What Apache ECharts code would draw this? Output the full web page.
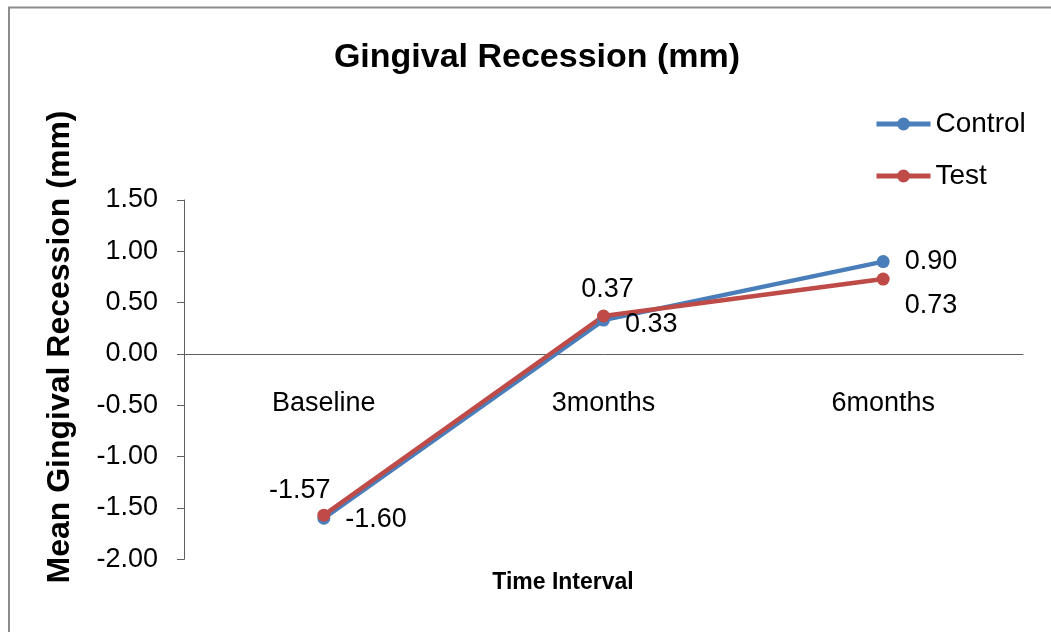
<!DOCTYPE html>
<html>
<head>
<meta charset="utf-8">
<script src="https://cdn.jsdelivr.net/npm/echarts@6/dist/echarts.min.js"></script>
<style>
html,body{margin:0;padding:0;background:#fff;}
#chart{width:1051px;height:632px;}
</style>
</head>
<body>
<div id="chart"></div>
<script>
const categories = ['Baseline', '3months', '6months'];
const controlValues = [-1.60, 0.33, 0.90];
const testValues = [-1.57, 0.37, 0.73];
const yTicks = { min: -2, max: 1.5, interval: 0.5 };

const FONT = 'Liberation Sans, Arial, sans-serif';

// label placement per point: base position + pixel shift
const controlLabelPos = [
  { position: 'right', d: [10, 1] },
  { position: 'right', d: [10, 4] },
  { position: 'right', d: [10, 0] }
];
const testLabelPos = [
  { position: 'top', d: [-24, 0] },
  { position: 'top', d: [4, -1] },
  { position: 'right', d: [10, 27] }
];

function mkData(vals, pos) {
  return vals.map((v, i) => ({
    value: v,
    label: { show: true, position: pos[i].position }
  }));
}
function mkLayout(pos) {
  return function (params) {
    const p = pos[params.dataIndex];
    return { dx: p.d[0], dy: p.d[1], hideOverlap: false };
  };
}

const gridTop = 200, gridBottomPx = 559.3;
const zeroShift = -(gridBottomPx - gridTop) * (0 - yTicks.min) / (yTicks.max - yTicks.min);

const chart = echarts.init(document.getElementById('chart'), null, { renderer: 'canvas' });
chart.setOption({
  animation: false,
  backgroundColor: '#fff',
  title: {
    text: 'Gingival Recession (mm)',
    left: 532, top: 36, textAlign: 'center',
    textStyle: { fontFamily: FONT, fontSize: 34, fontWeight: 'bold', color: '#000' }
  },
  legend: {
    orient: 'vertical',
    left: 869, top: 105,
    itemWidth: 54, itemHeight: 16, itemGap: 24,
    lineStyle: { width: 5 },
    textStyle: { fontFamily: FONT, fontSize: 28, color: '#000', lineHeight: 28 },
    data: ['Control', 'Test']
  },
  grid: { left: 184, right: 28, top: gridTop, bottom: 632 - gridBottomPx, containLabel: false },
  xAxis: {
    type: 'category',
    data: categories,
    boundaryGap: true,
    position: 'bottom',
    offset: zeroShift,
    axisLine: { show: true, onZero: false, lineStyle: { color: '#5f5f5f', width: 1 } },
    axisTick: { show: false },
    axisLabel: { fontFamily: FONT, fontSize: 27, color: '#000', margin: 36 },
    splitLine: { show: false }
  },
  yAxis: {
    type: 'value',
    min: yTicks.min, max: yTicks.max, interval: yTicks.interval,
    axisLine: { show: true, lineStyle: { color: '#5f5f5f', width: 1 } },
    axisTick: { show: true, length: 7, lineStyle: { color: '#5f5f5f' } },
    axisLabel: { fontFamily: FONT, fontSize: 27, color: '#000', margin: 26,
      formatter: v => v.toFixed(2) },
    splitLine: { show: false }
  },
  graphic: [
    { type: 'rect', shape: { x: 9, y: 7.5, width: 1200, height: 800 }, style: { fill: 'none', stroke: '#8c8c8c', lineWidth: 2 }, silent: true, z: -10 },
    { type: 'text', x: 563, y: 583, style: { text: 'Time Interval', fontFamily: FONT, fontSize: 23, fontWeight: 'bold', fill: '#000', align: 'center', verticalAlign: 'middle' } },
    { type: 'text', x: 60, y: 347, rotation: Math.PI / 2, style: { text: 'Mean Gingival Recession (mm)', fontFamily: FONT, fontSize: 32, fontWeight: 'bold', fill: '#000', align: 'center', verticalAlign: 'middle' } }
  ],
  series: [
    {
      name: 'Control', type: 'line', data: mkData(controlValues, controlLabelPos),
      symbol: 'circle', symbolSize: 13,
      lineStyle: { color: '#4A7EBB', width: 4.5 },
      itemStyle: { color: '#4A7EBB' },
      label: { fontFamily: FONT, fontSize: 27, color: '#000', formatter: p => p.value.toFixed(2) },
      labelLayout: mkLayout(controlLabelPos)
    },
    {
      name: 'Test', type: 'line', data: mkData(testValues, testLabelPos),
      symbol: 'circle', symbolSize: 13,
      lineStyle: { color: '#BE4B48', width: 4.5 },
      itemStyle: { color: '#BE4B48' },
      label: { fontFamily: FONT, fontSize: 27, color: '#000', formatter: p => p.value.toFixed(2) },
      labelLayout: mkLayout(testLabelPos)
    }
  ]
});
</script>
</body>
</html>
